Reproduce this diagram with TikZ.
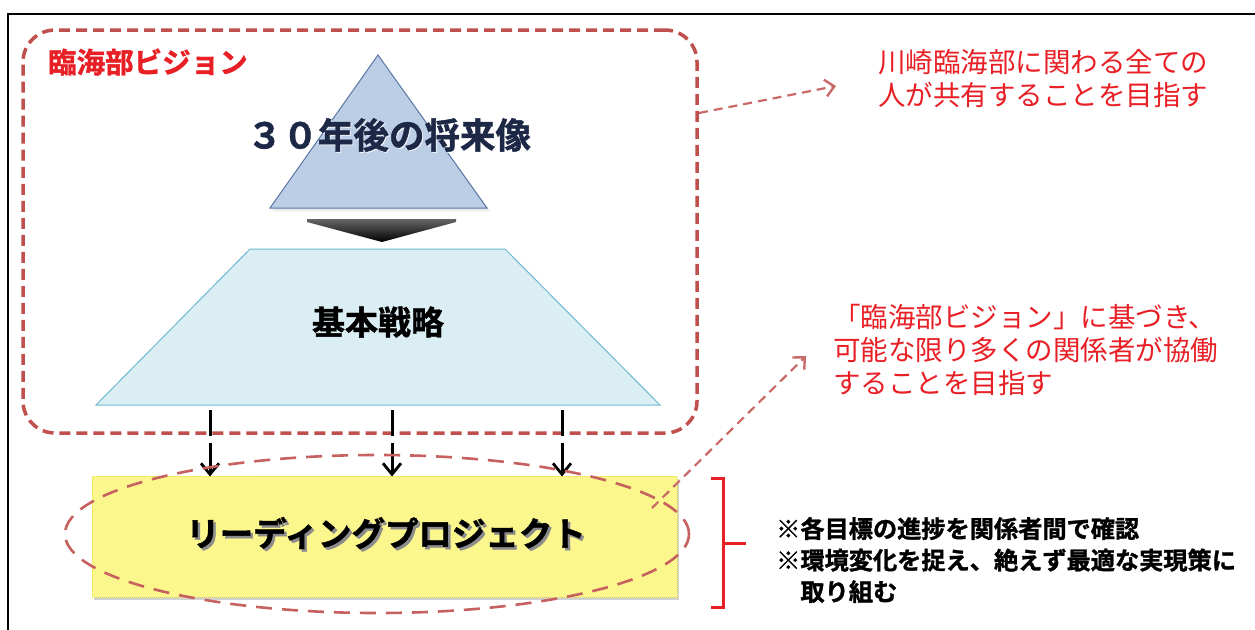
\documentclass[tikz,border=0pt]{standalone}
\usepackage{fontspec}
\setmainfont{Noto Sans CJK JP}[BoldFont={Noto Sans CJK JP Bold}]
\newfontfamily\heavy{Noto Sans CJK JP}[BoldFont={Noto Sans CJK JP Bold}, BoldFeatures={FakeBold=1.3}]
\usetikzlibrary{arrows.meta,shadows,calc}
\definecolor{dashred}{RGB}{192,80,77}
\definecolor{txtred}{RGB}{232,32,38}
\definecolor{trifill}{RGB}{188,205,230}
\definecolor{tridraw}{RGB}{90,120,165}
\definecolor{trapfill}{RGB}{218,238,243}
\definecolor{trapdraw}{RGB}{110,185,210}
\definecolor{lpfill}{RGB}{252,247,140}
\definecolor{lpdraw}{RGB}{235,220,70}
\definecolor{navy}{RGB}{28,40,70}
\tikzset{
  visionbox/.style={draw=dashred, line width=3.5pt, dash pattern=on 11pt off 6pt, rounded corners=32pt},
  ovaldash/.style={draw=dashred!90, line width=2.6pt, dash pattern=on 16pt off 10pt},
  callout/.style={draw=dashred!85, line width=2.2pt, dash pattern=on 9pt off 6pt, -{Straight Barb[length=9pt,width=17pt,line width=2.4pt]}},
  solidline/.style={draw=black, line width=3pt},
  downarrow/.style={draw=black, line width=3pt, -{Straight Barb[length=11pt,width=18pt,line width=2.8pt]}},
  redtxt/.style={text=txtred, align=left, anchor=west, inner sep=0pt},
  blktxt/.style={text=black, align=left, anchor=west, inner sep=0pt},
}
\begin{document}
\begin{tikzpicture}[x=1pt,y=-1pt]
\useasboundingbox (0,0) rectangle (1255,629);
\fill[white] (0,0) rectangle (1255,629);
% outer frame (top and left visible)
\draw[line width=2.8pt, black] (8,640) -- (8,14) -- (1265,14);
% vision box
\node[visionbox, minimum width=674pt, minimum height=403pt, inner sep=0pt] (vision) at (360,231.5) {};
\node[text=txtred, font=\heavy\bfseries\fontsize{28.5}{32}\selectfont, anchor=west, inner sep=0pt] (visiontitle) at (48,62) {臨海部ビジョン};
% triangle
\fill[black!20, opacity=0.4] (380,57) -- (490,211) -- (272,211) -- cycle;
\draw[fill=trifill, draw=tridraw, line width=1pt] (378,55) -- (487,208) -- (270,208) -- cycle;
\node[text=white, opacity=0.7, font=\heavy\bfseries\fontsize{35.5}{40}\selectfont, inner sep=0pt] at (390,136) {３０年後の将来像};
\node[text=navy, font=\heavy\bfseries\fontsize{35.5}{40}\selectfont, inner sep=0pt] (future) at (389,135) {３０年後の将来像};
% chevron
\shade[top color=black!60, bottom color=black] (307,219) -- (456,219) -- (456,222) -- (382,242) -- (307,222) -- cycle;
\coordinate (chev) at (382,242);
% trapezoid
\draw[fill=trapfill, draw=trapdraw, line width=1pt] (250,249) -- (505,249) -- (660,405) -- (96,405) -- cycle;
\node[font=\heavy\bfseries\fontsize{33}{38}\selectfont, inner sep=0pt] (strategy) at (378,322) {基本戦略};
% leading project
\node[draw=lpdraw, densely dotted, line width=1pt, fill=lpfill, minimum width=585pt, minimum height=121pt,
      drop shadow={shadow xshift=2pt, shadow yshift=-3pt, opacity=0.35}] (lp) at (384.5,536.5) {};
\node[text=black!45, font=\heavy\bfseries\fontsize{33.5}{38}\selectfont, inner sep=0pt] at (388.5,535.5) {リーディングプロジェクト};
\node[text=black, font=\heavy\bfseries\fontsize{33.5}{38}\selectfont, inner sep=0pt] (lptext) at (386,533) {リーディングプロジェクト};
% down arrows
\foreach \i/\x in {a/210,b/392,c/562}{
  \coordinate (s\i) at (\x,410);
  \coordinate (m\i) at (\x,436);
  \coordinate (n\i) at (\x,443);
  \draw[solidline] (s\i) -- (m\i);
  \draw[downarrow] (n\i) -- ([yshift=-1pt]s\i |- lp.north);
}
% oval
\draw[ovaldash] (377,534) ellipse [x radius=312pt, y radius=79pt];
% callout arrows
\coordinate (c1s) at (699,113);
\coordinate (c1e) at (836,86);
\draw[callout] (c1s) -- (c1e);
\coordinate (c2s) at (652,508);
\coordinate (c2e) at (806,356);
\draw[callout] (c2s) -- (c2e);
% red texts
\node[redtxt, font=\fontsize{27.5}{33}\selectfont] (t1) at (878,79) {川崎臨海部に関わる全ての\\人が共有することを目指す};
\node[redtxt, font=\fontsize{27.5}{33}\selectfont] (t2) at (833,350) {「臨海部ビジョン」に基づき、\\可能な限り多くの関係者が協働\\することを目指す};
% bracket
\draw[txtred, line width=3pt] (711,478) -- (723,478) -- (723,607) -- (711,607);
\draw[txtred, line width=3pt] (723,543) -- (746,543);
\coordinate (br) at (746,543);
% black texts
\node[blktxt, font=\heavy\bfseries\fontsize{24.2}{31.5}\selectfont] (t3) at (776,560) {※各目標の進捗を関係者間で確認\\※環境変化を捉え、絶えず最適な実現策に\\\hspace*{24.2pt}取り組む};
\end{tikzpicture}
\end{document}
